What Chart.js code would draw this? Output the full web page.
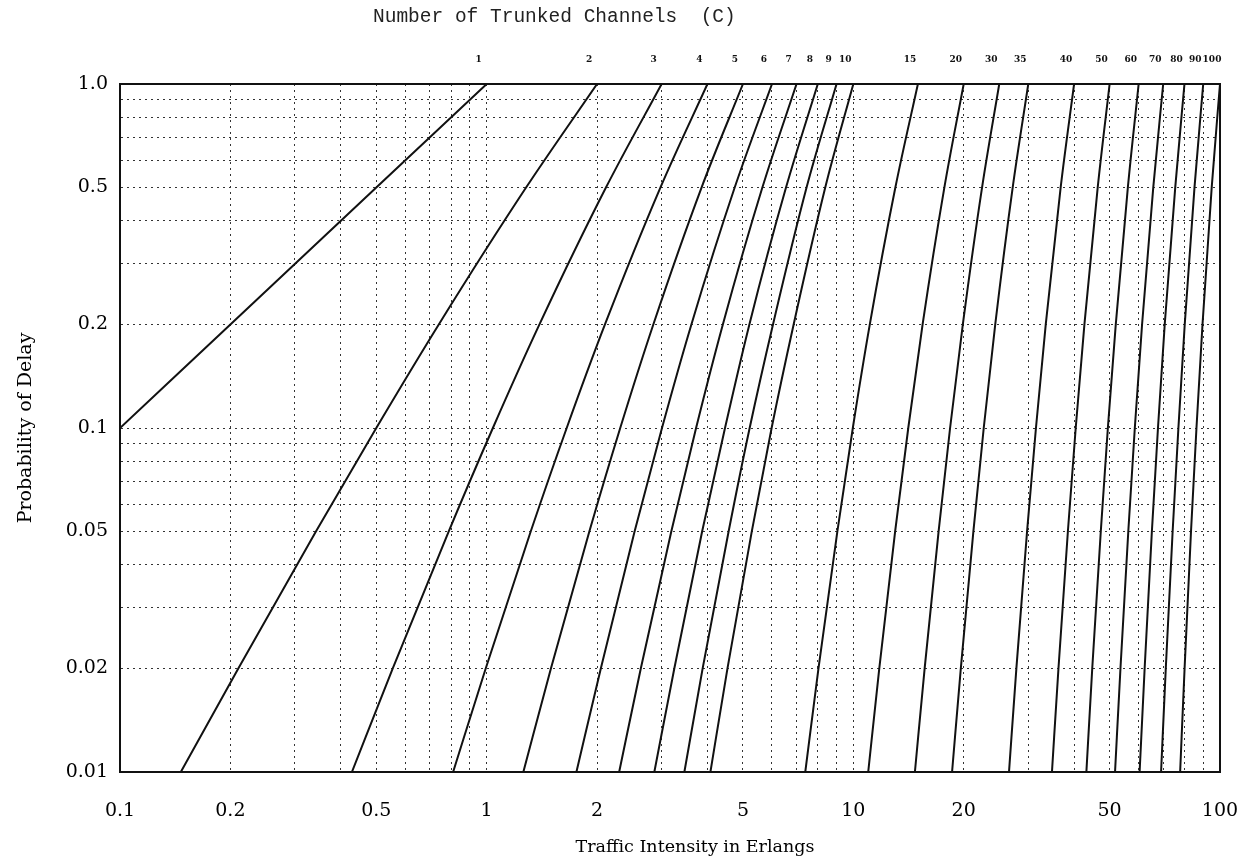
<!DOCTYPE html>
<html>
<head>
<meta charset="utf-8">
<title>Probability of Delay - Erlang C</title>
<script src="https://cdn.jsdelivr.net/npm/chart.js@4.4.1/dist/chart.umd.min.js"></script>
<style>
  html, body { margin: 0; padding: 0; background: #fff; }
  #wrap { position: relative; width: 1237px; height: 863px; }
  #topTitle {
    position: absolute; left: 373px; top: 6px;
    font: 19.5px "Liberation Mono", monospace; white-space: pre; color: #222;
  }
  #xTitle {
    position: absolute; left: 495px; width: 400px; top: 836px; text-align: center;
    font: 17.5px "DejaVu Serif", serif; color: #000;
  }
</style>
</head>
<body>
<div id="wrap">
  <canvas id="erlangChart" width="1237" height="863"></canvas>
  <div id="topTitle">Number of Trunked Channels  (C)</div>
  <div id="xTitle">Traffic Intensity in Erlangs</div>
</div>
<script>
// probability levels where each curve was read
const probLevels = [0.01, 0.02, 0.05, 0.1, 0.2, 0.5, 1.0];

// number of trunked channels, one curve each
const channels = [1, 2, 3, 4, 5, 6, 7, 8, 9, 10, 15, 20, 25, 30, 40, 50, 60, 70, 80, 90, 100];
// labels printed above the plot (as in the original figure)
const channelLabels = ['1', '2', '3', '4', '5', '6', '7', '8', '9', '10', '15', '20', '30', '35', '40', '50', '60', '70', '80', '90', '100'];

// traffic (Erlangs) at each probability level
const erl1 = [0.01, 0.02, 0.05, 0.1, 0.2, 0.5, 1];
const erl2 = [0.1465, 0.2102, 0.3422, 0.5, 0.7403, 1.2808, 2];
const erl3 = [0.429, 0.5545, 0.7876, 1.0398, 1.393, 2.115, 3];
const erl4 = [0.81, 0.994, 1.3186, 1.653, 2.102, 2.977, 4];
const erl5 = [1.259, 1.497, 1.9055, 2.3135, 2.848, 3.855, 5];
const erl6 = [1.757, 2.048, 2.5316, 3.007, 3.617, 4.747, 6];
const erl7 = [2.298, 2.6324, 3.188, 3.725, 4.407, 5.648, 7];
const erl8 = [2.866, 3.249, 3.869, 4.467, 5.206, 6.552, 8];
const erl9 = [3.461, 3.882, 4.569, 5.215, 6.038, 7.455, 9];
const erl10 = [4.076, 4.537, 5.284, 5.986, 6.874, 8.383, 10];
const erl15 = [7.395, 8.034, 9.044, 9.968, 11.09, 13.02, 15];
const erl20 = [10.98, 11.77, 13.0, 14.12, 15.45, 17.71, 20];
const erl25 = [14.72, 15.65, 17.08, 18.36, 19.89, 22.44, 25];
const erl30 = [18.59, 19.64, 21.25, 22.68, 24.38, 27.2, 30];
const erl40 = [26.58, 27.84, 29.77, 31.48, 33.48, 36.76, 40];
const erl50 = [34.81, 36.26, 38.47, 40.41, 42.68, 46.39, 50];
const erl60 = [43.21, 44.83, 47.3, 49.45, 51.97, 56.06, 60];
const erl70 = [51.73, 53.52, 56.22, 58.57, 61.3, 65.76, 70];
const erl80 = [60.36, 62.3, 65.19, 67.74, 70.67, 75.49, 80];
const erl90 = [69.07, 71.14, 74.27, 77.01, 80.13, 85.19, 90];
const erl100 = [77.85, 80.06, 83.35, 86.26, 89.59, 94.92, 100];

const curves = [erl1, erl2, erl3, erl4, erl5, erl6, erl7, erl8, erl9, erl10,
                erl15, erl20, erl25, erl30, erl40, erl50, erl60, erl70, erl80, erl90, erl100];

// axis grid and labels
const xGrid = [0.1, 0.2, 0.3, 0.4, 0.5, 0.6, 0.7, 0.8, 0.9,
               1, 2, 3, 4, 5, 6, 7, 8, 9,
               10, 20, 30, 40, 50, 60, 70, 80, 90, 100];
const xLabelAt = [0.1, 0.2, 0.5, 1, 2, 5, 10, 20, 50, 100];
const xLabelText = ['0.1', '0.2', '0.5', '1', '2', '5', '10', '20', '50', '100'];

const yGrid = [0.01, 0.02, 0.03, 0.04, 0.05, 0.06, 0.07, 0.08, 0.09,
               0.1, 0.2, 0.3, 0.4, 0.5, 0.6, 0.7, 0.8, 0.9, 1];
const yLabelAt = [0.01, 0.02, 0.05, 0.1, 0.2, 0.5, 1];
const yLabelText = ['0.01', '0.02', '0.05', '0.1', '0.2', '0.5', '1.0'];

const datasets = curves.map((xs, i) => ({
    label: 'C = ' + channels[i],
    data: xs.map((a, j) => ({ x: a, y: probLevels[j] })),
    borderColor: '#111',
    borderWidth: 2,
    pointRadius: 0,
    fill: false,
    cubicInterpolationMode: 'monotone'
}));

const dotGrid = { color: '#333', lineWidth: 1, drawTicks: false };
const dotBorder = { display: true, color: '#111', width: 2, dash: [2, 4] };
const serif = "'DejaVu Serif', serif";

// keep the plot box where the original has it: no extra room for edge labels
function fixHorizontal(h) {
    return axis => { axis.height = h; axis.paddingLeft = 0; axis.paddingRight = 0; };
}

new Chart(document.getElementById('erlangChart'), {
    type: 'line',
    data: { datasets },
    options: {
        responsive: false,
        animation: false,
        layout: { padding: 0 },
        plugins: { legend: { display: false }, tooltip: { enabled: false } },
        scales: {
            x: {
                type: 'logarithmic', position: 'bottom', min: 0.1, max: 100,
                afterBuildTicks: axis => { axis.ticks = xGrid.map(v => ({ value: v })); },
                afterFit: fixHorizontal(91),
                grid: dotGrid,
                border: dotBorder,
                ticks: {
                    autoSkip: false, maxRotation: 0, padding: 28, color: '#000',
                    font: { family: serif, size: 19 },
                    callback: v => { const i = xLabelAt.indexOf(v); return i >= 0 ? xLabelText[i] : ''; }
                }
            },
            x2: {
                type: 'logarithmic', position: 'top', min: 0.1, max: 100,
                afterBuildTicks: axis => { axis.ticks = channels.map(v => ({ value: v })); },
                afterFit: fixHorizontal(84),
                grid: { drawOnChartArea: false, drawTicks: false },
                border: { display: true, color: '#111', width: 2 },
                ticks: {
                    autoSkip: false, maxRotation: 0, padding: 19, labelOffset: -8, color: '#111',
                    font: { family: serif, size: 9, weight: 'bold' },
                    callback: (v, i) => channelLabels[i]
                }
            },
            y: {
                type: 'logarithmic', position: 'left', min: 0.01, max: 1,
                afterBuildTicks: axis => { axis.ticks = yGrid.map(v => ({ value: v })); },
                afterFit: axis => { axis.width = 120; },
                grid: dotGrid,
                border: dotBorder,
                title: {
                    display: true, text: 'Probability of Delay', color: '#000',
                    font: { family: serif, size: 19 }, padding: { top: 15, bottom: 0 }
                },
                ticks: {
                    autoSkip: false, padding: 12, color: '#000',
                    font: { family: serif, size: 19 },
                    callback: v => { const i = yLabelAt.indexOf(v); return i >= 0 ? yLabelText[i] : ''; }
                }
            },
            y2: {
                type: 'logarithmic', position: 'right', min: 0.01, max: 1,
                afterFit: axis => { axis.width = 17; },
                grid: { drawOnChartArea: false, drawTicks: false },
                border: { display: true, color: '#111', width: 2 },
                ticks: { display: false }
            }
        }
    }
});
</script>
</body>
</html>
